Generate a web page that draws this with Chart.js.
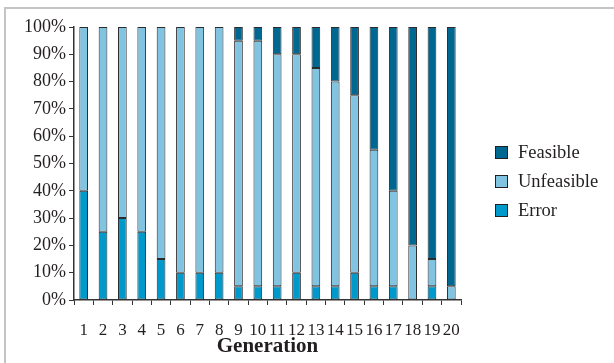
<!DOCTYPE html>
<html>
<head>
<meta charset="utf-8">
<script src="https://cdn.jsdelivr.net/npm/chart.js@4/dist/chart.umd.min.js"></script>
<style>
  html, body { margin: 0; padding: 0; background: #fff; overflow: hidden; }
  #wrap { position: relative; width: 614px; height: 363px; overflow: hidden; }
  #frame { position: absolute; left: 4px; top: 7px; width: 700px; height: 400px;
           border-top: 2px solid #c4c4c4; border-left: 2px solid #c4c4c4; }
  #chart { position: absolute; left: 0; top: 0; }
  #legend { position: absolute; left: 495px; top: 138px; font-family: "Liberation Serif", serif;
            font-size: 18.5px; color: #231f20; }
  .item { height: 29px; display: flex; align-items: center; }
  .box { width: 11px; height: 11px; border: 1px solid #231f20; margin-right: 10px; }
</style>
</head>
<body>
<div id="wrap">
  <div id="frame"></div>
  <canvas id="chart" width="614" height="363"></canvas>
  <div id="legend"></div>
</div>
<script>
const generations = ['1','2','3','4','5','6','7','8','9','10','11','12','13','14','15','16','17','18','19','20'];
const errorPct      = [40, 25, 30, 25, 15, 10, 10, 10, 5, 5, 5, 10, 5, 5, 10, 5, 5, 0, 5, 0];
const unfeasiblePct = [60, 75, 70, 75, 85, 90, 90, 90, 90, 90, 85, 80, 80, 75, 65, 50, 35, 20, 10, 5];
const feasiblePct   = [0, 0, 0, 0, 0, 0, 0, 0, 5, 5, 10, 10, 15, 20, 25, 45, 60, 80, 85, 95];

const colors = { Error: '#0099cb', Unfeasible: '#80c4e2', Feasible: '#006791' };
const font = "'Liberation Serif', serif";
const ink = '#231f20';

const datasets = [
    { label: 'Error', data: errorPct, backgroundColor: colors.Error },
    { label: 'Unfeasible', data: unfeasiblePct, backgroundColor: colors.Unfeasible },
    { label: 'Feasible', data: feasiblePct, backgroundColor: colors.Feasible }
].map(d => Object.assign(d, {
    borderColor: '#2b2b2b',
    // no outline for empty segments
    borderWidth: c => (c.raw ? 1 : 0),
    borderSkipped: false,
    barPercentage: 0.45,
    categoryPercentage: 1
}));

const ctx = document.getElementById('chart').getContext('2d');
new Chart(ctx, {
    type: 'bar',
    data: { labels: generations, datasets: datasets },
    options: {
        responsive: false,
        animation: false,
        layout: { padding: { top: 27, right: 153, left: 0, bottom: 0 } },
        plugins: { legend: { display: false }, tooltip: { enabled: false } },
        scales: {
            x: {
                stacked: true,
                grid: { offset: true, drawOnChartArea: false, tickLength: 5, color: '#333' },
                border: { color: '#333', width: 1.5 },
                ticks: { font: { family: font, size: 17 }, color: ink, padding: 15, maxRotation: 0, autoSkip: false },
                title: { display: true, text: 'Generation', color: ink, font: { family: font, size: 21, weight: 'bold' }, padding: { top: 0, bottom: 4 } },
                afterFit: s => { s.height = 63; }
            },
            y: {
                stacked: true,
                min: 0,
                max: 100,
                grid: { drawOnChartArea: false, tickLength: 5, color: '#333' },
                border: { color: '#333', width: 1.5 },
                ticks: { stepSize: 10, font: { family: font, size: 18 }, color: ink, padding: 3, callback: v => v + '%' },
                afterFit: s => { s.width = 74; }
            }
        }
    }
});

// legend, top to bottom like the original
const legend = document.getElementById('legend');
datasets.slice().reverse().forEach(d => {
    const item = document.createElement('div');
    item.className = 'item';
    item.innerHTML = '<span class="box" style="background:' + d.backgroundColor + '"></span>' + d.label;
    legend.appendChild(item);
});
</script>
</body>
</html>
